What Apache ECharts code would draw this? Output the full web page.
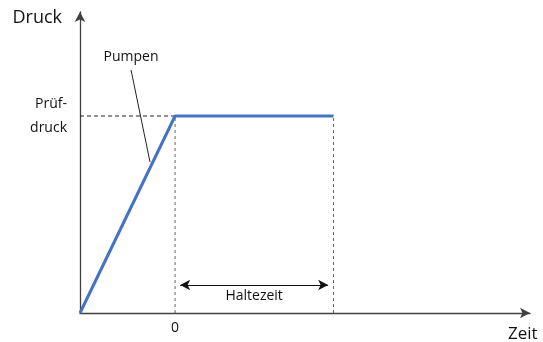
<!DOCTYPE html>
<html>
<head>
<meta charset="utf-8">
<script src="https://cdn.jsdelivr.net/npm/echarts@6/dist/echarts.min.js"></script>
<style>
  html, body { margin: 0; padding: 0; background: #fff; }
  #main { width: 543px; height: 342px; }
</style>
</head>
<body>
<div id="main"></div>
<script>
// Druck ueber Zeit: Pumpen bis Pruefdruck, dann Haltezeit
var pressureCurve = [[-3, 0], [0, 1], [5, 1]];
var testPressure = 1;
var holdStart = 0;
var holdEnd = 5;
var xTicks = [0];
var yTicks = [1];
var yTickLabels = ['Prüf-\ndruck'];
var pumpLeader = [[-1.39, 1.234], [-0.79, 0.766]];
var holdArrow = [0.16, 4.83, 0.142];

var myChart = echarts.init(document.getElementById('main'));
var fontName = 'Open Sans';
var axisColor = '#404040';

var option = {
    animation: false,
    grid: { left: 80, right: 13, top: 12, bottom: 29, outerBoundsMode: 'none', containLabel: false },
    xAxis: {
        type: 'value',
        min: -3,
        max: 11.2,
        name: 'Zeit',
        nameLocation: 'end',
        nameGap: -22,
        nameTextStyle: {
            fontFamily: fontName, fontSize: 17, color: '#111',
            align: 'left', verticalAlign: 'top', padding: [13, 0, 0, 0]
        },
        axisLine: {
            onZero: false,
            lineStyle: { color: axisColor, width: 1.3 },
            symbol: ['none', 'arrow'],
            symbolSize: [8, 10]
        },
        axisTick: { show: false },
        splitLine: { show: false },
        axisLabel: {
            customValues: xTicks,
            fontFamily: fontName, fontSize: 14, color: '#111', margin: 8
        }
    },
    yAxis: {
        type: 'value',
        min: 0,
        max: 1.528,
        name: 'Druck',
        nameLocation: 'end',
        nameGap: -6,
        nameTextStyle: {
            fontFamily: fontName, fontSize: 18, color: '#111',
            align: 'right', verticalAlign: 'middle', padding: [0, 18, 0, 0]
        },
        axisLine: {
            show: true,
            onZero: false,
            lineStyle: { color: axisColor, width: 1.3 },
            symbol: ['none', 'arrow'],
            symbolSize: [8, 10]
        },
        axisTick: { show: false },
        splitLine: { show: false },
        axisLabel: {
            customValues: yTicks,
            formatter: function (v) { return yTickLabels[yTicks.indexOf(v)] || ''; },
            fontFamily: fontName, fontSize: 14, color: '#111', margin: 13,
            lineHeight: 24, align: 'right'
        }
    },
    series: [
        {
            type: 'line',
            data: [[-3, testPressure], [holdStart, testPressure]],
            symbol: 'none',
            lineStyle: { color: '#222', width: 1, type: [4, 3] },
            z: 1
        },
        {
            type: 'line',
            data: [[holdStart, 0], [holdStart, testPressure]],
            symbol: 'none',
            lineStyle: { color: '#666', width: 1, type: [3, 3] },
            z: 1
        },
        {
            type: 'line',
            data: [[holdEnd, 0], [holdEnd, testPressure]],
            symbol: 'none',
            lineStyle: { color: '#666', width: 1, type: [3, 3] },
            z: 1
        },
        {
            type: 'line',
            data: pressureCurve,
            symbol: 'none',
            lineStyle: { color: '#4472C4', width: 3 },
            z: 3,
            markLine: {
                silent: true,
                symbol: ['arrow', 'arrow'],
                symbolSize: [8, 10],
                lineStyle: { color: '#111', width: 1, type: 'solid' },
                label: {
                    show: true,
                    position: 'insideMiddleBottom',
                    formatter: 'Haltezeit',
                    fontFamily: fontName, fontSize: 14, color: '#111', distance: 4
                },
                data: [[
                    { coord: [holdArrow[0], holdArrow[2]] },
                    { coord: [holdArrow[1], holdArrow[2]] }
                ]]
            }
        },
        {
            type: 'line',
            data: pumpLeader,
            symbol: 'none',
            lineStyle: { color: '#222', width: 1 },
            z: 2,
            markPoint: {
                symbol: 'circle',
                symbolSize: 0,
                label: {
                    show: true,
                    formatter: 'Pumpen',
                    position: 'top',
                    distance: 6,
                    fontFamily: fontName, fontSize: 14, color: '#111'
                },
                data: [{ coord: pumpLeader[0] }]
            }
        }
    ]
};
myChart.setOption(option);
</script>
</body>
</html>
